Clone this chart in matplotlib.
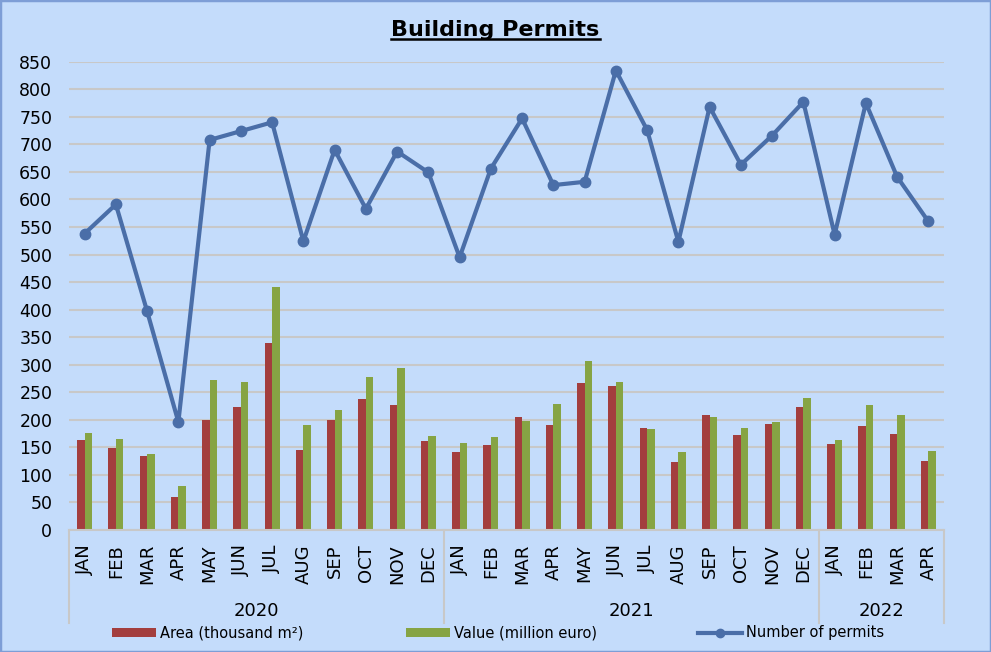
import numpy as np
import matplotlib
matplotlib.use("Agg")
import matplotlib.pyplot as plt
from matplotlib.lines import Line2D
from matplotlib.patches import Patch

months = ["JAN", "FEB", "MAR", "APR", "MAY", "JUN", "JUL", "AUG", "SEP", "OCT", "NOV", "DEC",
          "JAN", "FEB", "MAR", "APR", "MAY", "JUN", "JUL", "AUG", "SEP", "OCT", "NOV", "DEC",
          "JAN", "FEB", "MAR", "APR"]
years = ["2020", "2021", "2022"]
year_counts = [12, 12, 4]

area = [163, 149, 134, 60, 200, 223, 339, 145, 200, 238, 227, 162,
        142, 154, 205, 191, 267, 261, 185, 123, 209, 172, 192, 223,
        156, 189, 174, 125]
value = [176, 165, 138, 80, 272, 269, 441, 191, 218, 278, 294, 171,
         158, 169, 198, 229, 307, 269, 183, 142, 205, 185, 196, 240,
         163, 227, 209, 143]
permits = [538, 591, 397, 196, 708, 724, 740, 524, 690, 583, 687, 649,
           495, 656, 747, 626, 632, 834, 726, 523, 768, 663, 716, 777,
           536, 775, 641, 560]

bg = "#C4DCFB"
red = "#A33E3E"
green = "#86A444"
blue = "#4A6EA8"
grid = "#C8C8C8"

W, H = 991, 652
fig = plt.figure(figsize=(W / 100, H / 100), dpi=100, facecolor=bg)
fig.patches.append(plt.Rectangle((0, 0), 1, 1, transform=fig.transFigure,
                                 fill=False, edgecolor="#7E9ED6", linewidth=2.5))

left, right, top, bottom = 69, 944, 61.7, 530
ax = fig.add_axes([left / W, 1 - bottom / H, (right - left) / W, (bottom - top) / H])
ax.set_facecolor(bg)

x = np.arange(len(months))
bw = 0.24
ax.bar(x - bw / 2, area, bw, color=red, zorder=2)
ax.bar(x + bw / 2, value, bw, color=green, zorder=2)
ax.plot(x, permits, color=blue, lw=3.0, marker="o", markersize=7.5, zorder=3)

ax.set_xlim(-0.5, len(months) - 0.5)
ax.set_ylim(0, 850)
ax.set_yticks(range(0, 851, 50))
ax.yaxis.grid(True, color=grid, lw=1.5, zorder=0)
ax.tick_params(axis="y", length=0, pad=12, labelsize=12.5)
ax.set_xticks([])
for s in ["left", "right", "top"]:
    ax.spines[s].set_visible(False)
ax.spines["bottom"].set_color(grid)
ax.spines["bottom"].set_linewidth(1.5)

trans = ax.get_xaxis_transform()
for i, m in enumerate(months):
    ax.text(i, -0.03, m, rotation=90, ha="center", va="top", fontsize=13, transform=trans)

sep_y = (bottom - 623) / (bottom - top)
start = 0
bounds = [-0.5]
for name, n in zip(years, year_counts):
    ax.text(start + n / 2 - 0.5, (bottom - 611) / (bottom - top), name, ha="center", va="center",
            fontsize=13, transform=trans)
    start += n
    bounds.append(start - 0.5)
for b in bounds:
    ax.add_line(Line2D([b, b], [0, sep_y], transform=trans, color=grid, lw=1.5, clip_on=False))

# legend, three equal slots like the original
entries = [
    (Patch(facecolor=red), "Area (thousand m²)", 116),
    (Patch(facecolor=green), "Value (million euro)", 410),
    (Line2D([], [], color=blue, lw=3, marker="o", markersize=6), "Number of permits", 702),
]
for h, lab, px in entries:
    lg = fig.legend([h], [lab], loc="center left", bbox_to_anchor=(px / W - 0.004, 1 - 633 / H),
                    frameon=False, fontsize=10.5, handlelength=3.0, handleheight=0.55,
                    handletextpad=0.3, borderpad=0, borderaxespad=0)

t = fig.text(0.5, 1 - 30 / H, "Building Permits", ha="center", va="center",
             fontsize=16, fontweight="bold")
fig.canvas.draw()
bb = t.get_window_extent().transformed(fig.transFigure.inverted())
fig.add_artist(Line2D([bb.x0, bb.x1], [bb.y0 + 0.001, bb.y0 + 0.001], color="black", lw=1.8,
                      transform=fig.transFigure))

fig.savefig("out.png", dpi=100, facecolor=bg)
